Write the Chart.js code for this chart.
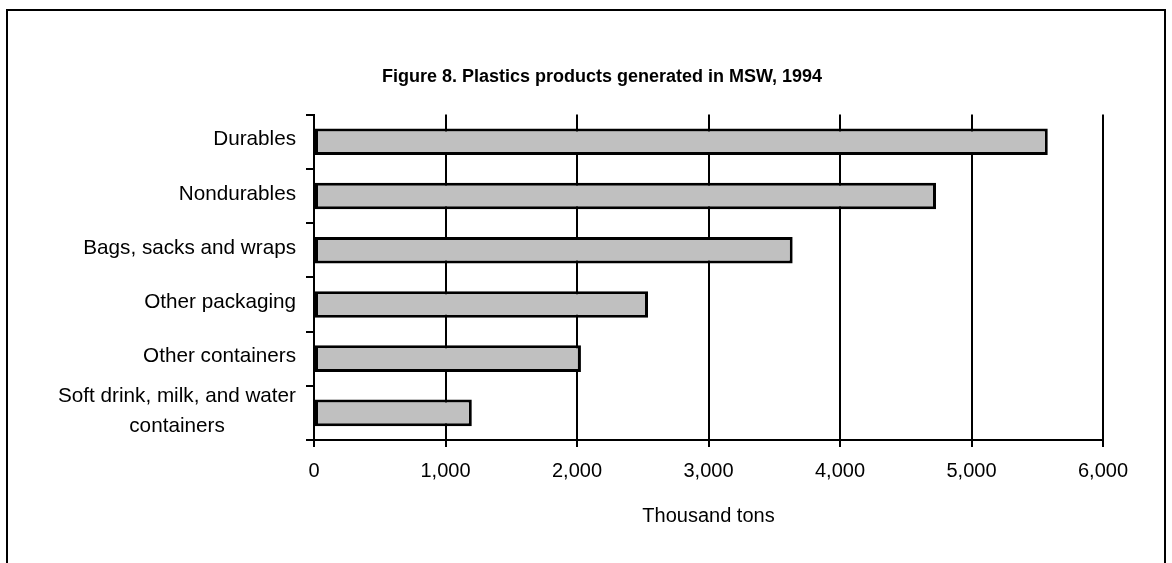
<!DOCTYPE html>
<html>
<head>
<meta charset="utf-8">
<title>Figure 8. Plastics products generated in MSW, 1994</title>
<script src="https://cdn.jsdelivr.net/npm/chart.js@4/dist/chart.umd.min.js"></script>
<style>
    html, body { margin: 0; padding: 0; background: #fff; overflow: hidden; }
    #frame {
        position: absolute; left: 6px; top: 9px; width: 1156px; height: 600px;
        border: 2px solid #000; border-bottom: none;
    }
    #wrap { position: absolute; left: 0; top: 0; width: 1172px; height: 563px; }
</style>
</head>
<body>
<div id="frame"></div>
<div id="wrap"><canvas id="plasticsChart" width="1172" height="563"></canvas></div>
<script>
// ---------------------------------------------------------------------------
// Data
// ---------------------------------------------------------------------------
const categories = [
    ['Durables'],
    ['Nondurables'],
    ['Bags, sacks and wraps'],
    ['Other packaging'],
    ['Other containers'],
    ['Soft drink, milk, and water', 'containers'],
];
const generatedTons = [5580, 4730, 3640, 2540, 2030, 1200];
const xTicks = [0, 1000, 2000, 3000, 4000, 5000, 6000];

const FONT = '"Liberation Sans", Arial, Helvetica, sans-serif';
const LABEL_SIZE = 20.7;
const TICK_SIZE = 20;

// Category labels: right aligned as a block, each line centred in the block
const categoryLabels = {
    id: 'categoryLabels',
    afterDraw(chart) {
        const ctx = chart.ctx;
        const yScale = chart.scales.y;
        const rightEdge = yScale.right - 18;
        ctx.save();
        ctx.font = LABEL_SIZE + 'px ' + FONT;
        ctx.fillStyle = '#000';
        ctx.textAlign = 'center';
        ctx.textBaseline = 'middle';
        categories.forEach((lines, i) => {
            const yMid = yScale.getPixelForValue(i);
            const blockWidth = Math.max(...lines.map(l => ctx.measureText(l).width));
            const cx = rightEdge - blockWidth / 2;
            const lineH = 30;
            const y0 = yMid - (lines.length - 1) * lineH / 2 - 2;
            lines.forEach((l, j) => ctx.fillText(l, cx, y0 + j * lineH));
        });
        ctx.restore();
    }
};

new Chart(document.getElementById('plasticsChart'), {
    type: 'bar',
    data: {
        labels: categories,
        datasets: [{
            data: generatedTons,
            backgroundColor: '#c0c0c0',
            borderColor: '#000',
            borderWidth: 3,
            borderSkipped: false,
            barPercentage: 0.49,
            categoryPercentage: 1,
        }]
    },
    options: {
        indexAxis: 'y',
        responsive: false,
        animation: false,
        layout: { padding: { left: 101, right: 69, top: 0, bottom: 23 } },
        plugins: {
            legend: { display: false },
            tooltip: { enabled: false },
            title: {
                display: true,
                text: 'Figure 8. Plastics products generated in MSW, 1994',
                color: '#000',
                font: { family: FONT, size: 18, weight: 'bold' },
                padding: { top: 66, bottom: 27 },
            },
        },
        scales: {
            x: {
                min: 0,
                max: 6000,
                afterBuildTicks: (scale) => { scale.ticks = xTicks.map(v => ({ value: v })); },
                afterFit: (scale) => { scale.height = 100; },
                grid: { color: '#000', lineWidth: 2, tickLength: 7 },
                border: { color: '#000', width: 2 },
                ticks: {
                    color: '#000',
                    padding: 12,
                    font: { family: FONT, size: TICK_SIZE },
                    callback: (v) => v.toLocaleString('en-US'),
                },
                title: {
                    display: true,
                    text: 'Thousand tons',
                    color: '#000',
                    font: { family: FONT, size: TICK_SIZE },
                    padding: { top: 4, bottom: 12 },
                },
            },
            y: {
                afterFit: (scale) => { scale.width = 213; },
                grid: {
                    color: '#000', lineWidth: 2, tickLength: 8,
                    offset: true, drawOnChartArea: false,
                },
                border: { color: '#000', width: 2 },
                ticks: { display: false },
            },
        },
    },
    plugins: [categoryLabels],
});
</script>
</body>
</html>
